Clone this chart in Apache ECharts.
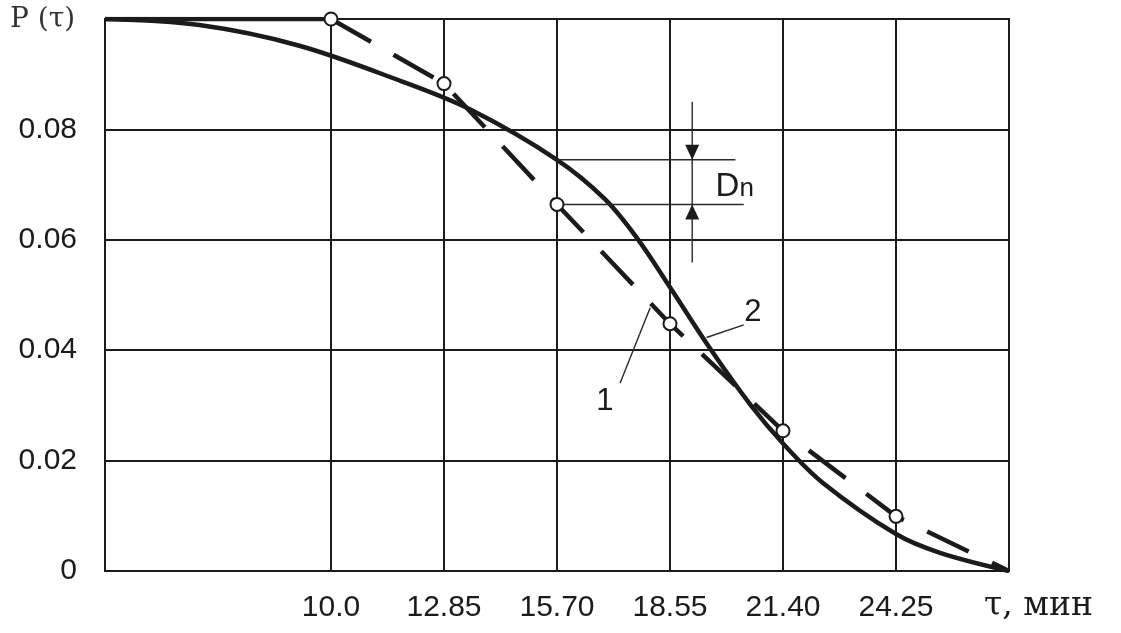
<!DOCTYPE html>
<html><head><meta charset="utf-8">
<script src="https://cdn.jsdelivr.net/npm/echarts@6/dist/echarts.min.js"></script>
<style>html,body{margin:0;padding:0;background:#fff}#c{width:1121px;height:633px}</style>
</head><body><div id="c"></div>
<script>
// ---- data ----
const xTicks = [10.0, 12.85, 15.70, 18.55, 21.40, 24.25];
const xTickLabels = ['10.0', '12.85', '15.70', '18.55', '21.40', '24.25'];
const yTicks = [0, 0.02, 0.04, 0.06, 0.08];
const yTickLabels = ['0', '0.02', '0.04', '0.06', '0.08'];
const xMin = 4.3, xMax = 27.1, yMax = 0.1;

// empirical step (P = 0.1 before first point)
const stepTau = [4.3, 10.0];
const stepP = [0.1, 0.1];
// empirical polyline (curve 1, dashed, with circles)
const empTau = [10.0, 12.85, 15.70, 18.55, 21.40, 24.25, 27.10];
const empP = [0.1, 0.0883, 0.0664, 0.0448, 0.0254, 0.0099, 0];
// theoretical curve (curve 2, solid)
const fitTau = [4.3, 6.68, 9.18, 11.78, 13.54, 15.70, 16.89, 17.71, 18.55, 19.57, 20.59, 21.40, 22.40, 24.25, 25.36, 27.10];
const fitP = [0.1, 0.0989, 0.0952, 0.0887, 0.0835, 0.0745, 0.0675, 0.0604, 0.0514, 0.0402, 0.0300, 0.0231, 0.0160, 0.0067, 0.0033, 0];

// ---- chart ----
const INK = '#1b1b1b';
const chart = echarts.init(document.getElementById('c'), null, {renderer: 'canvas'});

function lbl(v, ticks, labels) {
  for (let i = 0; i < ticks.length; i++) if (Math.abs(ticks[i] - v) < 1e-6) return labels[i];
  return '';
}

const option = {
  animation: false,
  backgroundColor: '#fff',
  grid: {left: 105, top: 19, right: 112, bottom: 62, show: true, borderColor: INK, borderWidth: 2, backgroundColor: 'transparent'},
  xAxis: {
    type: 'value', min: xMin, max: xMax,
    axisLine: {show: true, lineStyle: {color: INK, width: 2}},
    axisTick: {show: false, customValues: xTicks},
    splitLine: {show: false},
    axisLabel: {customValues: xTicks, formatter: v => lbl(v, xTicks, xTickLabels), margin: 22,
      fontSize: 30, color: INK, fontFamily: 'Liberation Sans', hideOverlap: false}
  },
  yAxis: {
    type: 'value', min: 0, max: yMax, interval: 0.02,
    axisLine: {show: true, lineStyle: {color: INK, width: 2}},
    axisTick: {show: false},
    splitLine: {show: true, lineStyle: {color: INK, width: 2}},
    axisLabel: {formatter: v => lbl(v, yTicks, yTickLabels), margin: 28,
      fontSize: 30, color: INK, fontFamily: 'Liberation Sans', padding: [0, 0, 6, 0]}
  },
  series: [
    {
      type: 'line', name: 'step', z: 3, symbol: 'none',
      data: stepTau.map((t, i) => [t, stepP[i]]),
      lineStyle: {color: INK, width: 4.5}
    },
    {
      type: 'line', name: '2', z: 3, symbol: 'none', smooth: 0.35,
      data: fitTau.map((t, i) => [t, fitP[i]]),
      lineStyle: {color: INK, width: 4.5},
      markLine: {
        silent: true, z: 1, symbol: ['none', 'none'], label: {show: false},
        lineStyle: {color: INK, width: 2, type: 'solid'},
        emphasis: {disabled: true},
        data: xTicks.map(v => ({xAxis: v}))
      }
    },
    {
      type: 'line', name: '1', z: 4,
      symbol: 'circle', symbolSize: 13,
      itemStyle: {color: '#fff', borderColor: INK, borderWidth: 2},
      data: empTau.map((t, i) => i === empTau.length - 1 ? {value: [t, empP[i]], symbol: 'none'} : [t, empP[i]]),
      lineStyle: {color: INK, width: 4.5, type: [46, 26], cap: 'butt'}
    }
  ]
};
chart.setOption(option);

// ---- annotations (data coordinates) ----
const ann = {
  dnTau: 19.11, dnTopP: 0.085, dnBottomP: 0.0559,
  upperEndTau: 20.20, lowerEndTau: 20.41,
  dnTextTau: 19.70, dnTextP: 0.0679,
  lead1: [[17.29, 0.0340], [18.05, 0.0477]], text1: [16.91, 0.0308],
  lead2: [[20.41, 0.0446], [19.47, 0.0423]], text2: [20.64, 0.0468]
};
const refIdxFit = fitTau.indexOf(15.70);
const refIdxEmp = empTau.indexOf(15.70);
function P(x, y) { return chart.convertToPixel({gridIndex: 0}, [x, y]); }

const thin = {stroke: '#2a2a2a', lineWidth: 1.4};
const g = [];
function seg(a, b) { g.push({type: 'line', z: 10, shape: {x1: a[0], y1: a[1], x2: b[0], y2: b[1]}, style: thin}); }

const vTop = P(ann.dnTau, ann.dnTopP), vBot = P(ann.dnTau, ann.dnBottomP);
seg(vTop, vBot);
const uA = P(empTau[refIdxEmp], fitP[refIdxFit]), uB = P(ann.upperEndTau, fitP[refIdxFit]);
seg(uA, uB);
const lA = P(empTau[refIdxEmp], empP[refIdxEmp]), lB = P(ann.lowerEndTau, empP[refIdxEmp]);
seg([lA[0] + 7, lA[1]], lB);
const tipDown = P(ann.dnTau, fitP[refIdxFit]);
const tipUp = P(ann.dnTau, empP[refIdxEmp]);
g.push({type: 'polygon', z: 10, shape: {points: [[tipDown[0] - 7, tipDown[1] - 15], [tipDown[0] + 7, tipDown[1] - 15], tipDown]}, style: {fill: INK}});
g.push({type: 'polygon', z: 10, shape: {points: [[tipUp[0] - 7, tipUp[1] + 15], [tipUp[0] + 7, tipUp[1] + 15], tipUp]}, style: {fill: INK}});
const dn = P(ann.dnTextTau, ann.dnTextP);
g.push({type: 'text', z: 10, x: dn[0], y: dn[1] + 7, style: {text: 'D', fontSize: 33, fontFamily: 'Liberation Sans', fill: INK, verticalAlign: 'bottom', align: 'left'}});
g.push({type: 'text', z: 10, x: dn[0] + 24, y: dn[1] + 6, style: {text: 'n', fontSize: 26, fontFamily: 'Liberation Sans', fill: INK, verticalAlign: 'bottom', align: 'left'}});

seg(P(...ann.lead1[0]), P(...ann.lead1[1]));
seg(P(...ann.lead2[0]), P(...ann.lead2[1]));
const t1 = P(...ann.text1), t2 = P(...ann.text2);
g.push({type: 'text', z: 10, x: t1[0], y: t1[1], style: {text: '1', fontSize: 31, fontFamily: 'Liberation Sans', fill: INK, align: 'center', verticalAlign: 'middle'}});
g.push({type: 'text', z: 10, x: t2[0], y: t2[1], style: {text: '2', fontSize: 31, fontFamily: 'Liberation Sans', fill: INK, align: 'center', verticalAlign: 'middle'}});

// axis titles
g.push({type: 'text', z: 10, left: 10, top: 6, style: {text: 'P (τ)', fontSize: 28, fontFamily: 'DejaVu Serif', fill: '#333'}});
g.push({type: 'text', z: 10, left: 984, top: 590, style: {text: 'τ, мин', fontSize: 33, fontFamily: 'DejaVu Serif', fill: INK}});

chart.setOption({graphic: {elements: g}});
</script>
</body></html>
